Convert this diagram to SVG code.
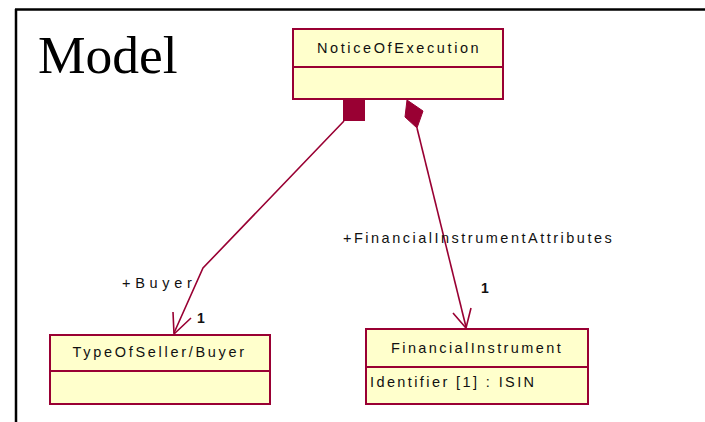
<svg xmlns="http://www.w3.org/2000/svg" width="705" height="422" viewBox="0 0 705 422">
<style>
.box{fill:#ffffcc;stroke:#990033;stroke-width:2}
.div{stroke:#990033;stroke-width:2}
.t{font-family:"Liberation Sans",Arial,sans-serif;font-size:14.5px;fill:#111}
.con{fill:none;stroke:#990033;stroke-width:1.6}
.head{fill:#990033;stroke:#990033;stroke-width:1}
.one{font-family:"Liberation Sans",Arial,sans-serif;font-size:14px;font-weight:bold;fill:#111}
</style>
<rect width="705" height="422" fill="#ffffff"/>
<g id="frame">
<line x1="15" y1="9.5" x2="705" y2="9.5" stroke="#000" stroke-width="2.5"/>
<line x1="16" y1="9" x2="16" y2="422" stroke="#000" stroke-width="2.5"/>
<text x="38" y="73" font-family="'Liberation Serif','Times New Roman',serif" font-size="53.5" fill="#000">Model</text>
</g>
<g id="connectors">
<rect class="head" x="343.5" y="99.5" width="21" height="21"/>
<polyline class="con" points="344,121 203,268 174,333"/>
<polyline class="con" points="173,312 174,334 191,318"/>
<polygon class="head" points="407,100 423,111 417,128 405,117"/>
<line class="con" x1="417" y1="128" x2="466" y2="327"/>
<polyline class="con" points="453,313 466,328 471,308"/>
<text class="t" x="122" y="288" letter-spacing="4.7">+Buyer</text>
<text class="one" x="197" y="323">1</text>
<text class="t" x="343" y="243" letter-spacing="2.5">+FinancialInstrumentAttributes</text>
<text class="one" x="481" y="293">1</text>
</g>
<g id="NoticeOfExecution">
<rect class="box" x="293" y="29" width="210" height="70"/>
<line class="div" x1="293" y1="67" x2="503" y2="67"/>
<text class="t" x="317" y="53" letter-spacing="2.6">NoticeOfExecution</text>
</g>
<g id="TypeOfSellerBuyer">
<rect class="box" x="50" y="335" width="220" height="69"/>
<line class="div" x1="50" y1="371" x2="270" y2="371"/>
<text class="t" x="72.5" y="357" letter-spacing="2.7">TypeOfSeller/Buyer</text>
</g>
<g id="FinancialInstrument">
<rect class="box" x="366" y="329" width="222" height="75"/>
<line class="div" x1="366" y1="367" x2="588" y2="367"/>
<text class="t" x="391" y="353" letter-spacing="2.4">FinancialInstrument</text>
<text class="t" x="370" y="387" letter-spacing="2.4">Identifier [1] : ISIN</text>
</g>
</svg>
